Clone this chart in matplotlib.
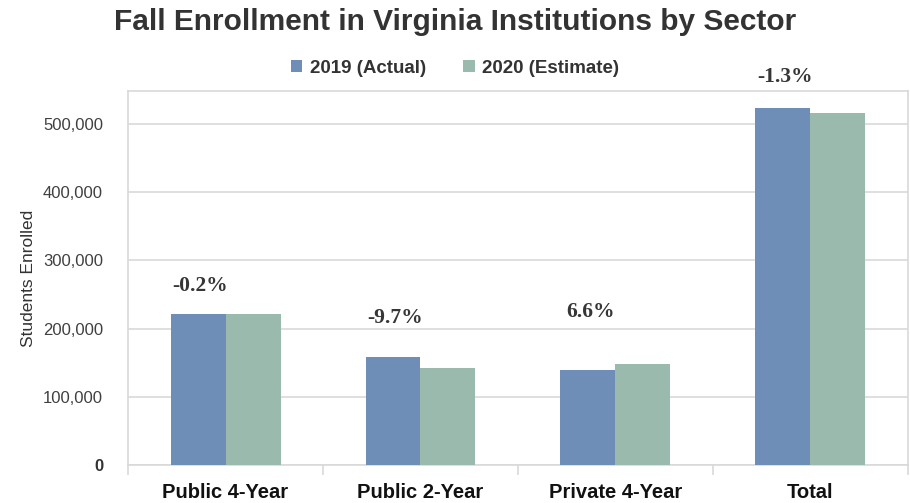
import matplotlib.pyplot as plt
import numpy as np

categories = ['Public 4-Year', 'Public 2-Year', 'Private 4-Year', 'Total']
enroll_2019 = [221000, 158000, 139000, 523000]
enroll_2020 = [221000, 142000, 148000, 516000]
pct_change = ['-0.2%', '-9.7%', '6.6%', '-1.3%']
label_pos = [263000, 216000, 224000, 568000]

blue = '#6E8EB8'
green = '#9BBAAE'
grid_grey = '#D9D9D9'

plt.rcParams['font.family'] = ['Liberation Sans', 'DejaVu Sans']

fig = plt.figure(figsize=(9.1, 5.03), dpi=100)
ax = fig.add_axes([0.1407, 0.0755, 0.857, 0.7435])

x = np.arange(len(categories))
w = 0.282
ax.bar(x - w / 2, enroll_2019, w, color=blue, label='2019 (Actual)', zorder=3)
ax.bar(x + w / 2, enroll_2020, w, color=green, label='2020 (Estimate)', zorder=3)

# percent change labels, sitting a bit left of the group centre
for xi, txt, yp in zip(x, pct_change, label_pos):
    ax.text(xi - 0.13, yp, txt, ha='center', va='center', fontsize=15.5,
            family='Liberation Serif', fontweight='bold', color='#363636',
            clip_on=False)

ax.set_xlim(-0.5, 3.5)
ax.set_ylim(0, 548000)
ax.set_yticks(range(0, 500001, 100000))
ax.set_yticklabels(['0'] + [f'{v:,}' for v in range(100000, 500001, 100000)])
ax.yaxis.grid(True, color=grid_grey, linewidth=1.2, zorder=0)
ax.tick_params(axis='y', length=0, labelsize=12, labelcolor='#404040', pad=18)
ax.get_yticklabels()[0].set_fontweight('bold')
ax.get_yticklabels()[0].set_color('#333333')

ax.set_xticks(x)
ax.set_xticklabels(categories, fontsize=14.5, fontweight='bold', color='#111111')
ax.tick_params(axis='x', length=0, pad=13)
# separator ticks between categories
ax.set_xticks(np.arange(-0.5, 4.0, 1.0), minor=True)
ax.tick_params(axis='x', which='minor', length=7, color=grid_grey, width=1.2)

for s in ax.spines.values():
    s.set_color(grid_grey)
    s.set_linewidth(1.2)

ax.set_ylabel('Students Enrolled', fontsize=12.5, color='#333333', labelpad=5)

fig.suptitle('Fall Enrollment in Virginia Institutions by Sector', x=0.5, y=0.984,
             fontsize=21.5, fontweight='bold', color='#333333')
fig.legend(loc='center', bbox_to_anchor=(0.5, 0.864), ncol=2, frameon=False,
           handlelength=0.6, handleheight=0.6, columnspacing=2.0,
           handletextpad=0.4, prop={'weight': 'bold', 'size': 13.5})
for t in fig.legends[0].get_texts():
    t.set_color('#333333')

fig.savefig('out.png', dpi=100)
